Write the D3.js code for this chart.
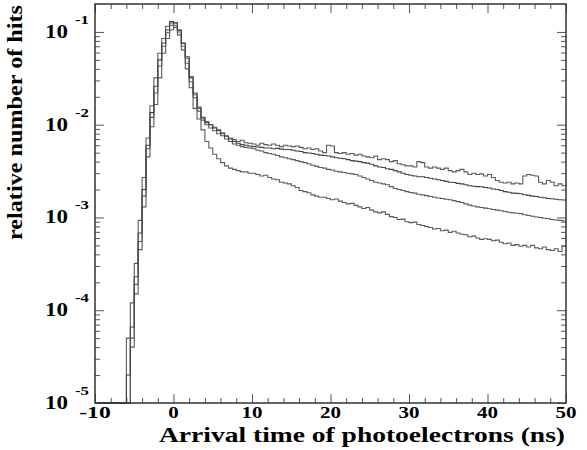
<!DOCTYPE html>
<html>

<head>
  <title>Arrival time of photoelectrons</title>
</head>

<body>

  <svg id="svg" width="587" height="450"></svg>

  <script src="https://d3js.org/d3.v7.min.js"></script>
  <script>
    // bin lower edges (ns), 0.5 ns wide, -10 .. 49.5
    const binLow = d3.range(120).map(i => -10 + i * 0.5)
    const binWidth = 0.5

    // relative number of hits, in units of 1e-4 (10 bins = 5 ns per row)
    const hitsA = [
      0, 0, 0, 0, 0, 0, 0, 0, 0.5, 1.2,
      3.2, 9.3, 27, 72, 160, 320, 590, 850, 1150, 1250,
      1180, 1000, 700, 460, 290, 195, 150, 120, 108, 100,
      94, 88, 82, 76, 72, 69, 66, 68, 64, 63,
      62, 60, 63, 61, 60, 62, 60, 58, 60, 59,
      58, 59, 57, 55, 56, 54, 55, 52, 50, 60,
      59, 50, 49, 50, 48, 49, 47, 48, 46, 45,
      44, 46, 42, 43, 42, 40, 41, 38, 37, 36,
      36, 35, 40, 39, 35, 34, 35, 34, 33, 34,
      32, 31, 32, 33, 31, 29, 30, 29, 29.5, 28,
      29, 27, 25, 24, 23.5, 24, 23, 23.5, 23, 28,
      29, 28.5, 28, 24, 23, 25, 24, 22, 23, 22
    ]
    const hitsB = [
      0, 0, 0, 0, 0, 0, 0, 0, 0.2, 0.66,
      2.3, 6.8, 20, 60, 135, 260, 500, 760, 1050, 1290,
      1250, 1050, 760, 540, 320, 220, 155, 118, 105, 100,
      92, 86, 80, 75, 70, 66, 63, 61, 60, 59,
      58, 57.5, 57, 56, 56, 55, 55.5, 54.5, 54, 54,
      53, 52, 51.5, 50, 49.5, 49, 48, 47, 46.5, 46,
      45, 44, 43.5, 43, 42, 41, 40.5, 40, 39, 38.5,
      37.5, 36, 35, 34.5, 33.5, 33, 32, 31, 30, 29,
      28.5, 28, 27.5, 27.5, 27, 26.5, 26, 25.5, 25, 24.5,
      24, 23.8, 23.3, 23, 22.5, 22, 21.7, 21.5, 21.4, 21,
      20.8, 20.3, 20, 19.5, 19, 18.7, 18.3, 18.2, 18, 17.6,
      17.3, 17, 16.8, 16.5, 16.3, 16, 15.9, 15.7, 15.5, 15.4
    ]
    const hitsC = [
      0, 0, 0, 0, 0, 0, 0, 0, 0, 0.4,
      1.5, 4.5, 13, 45, 95, 165, 320, 590, 850, 1050,
      1260, 1040, 750, 520, 330, 210, 140, 112, 100, 92,
      86, 80, 76, 70, 66, 62, 60, 58, 57, 56,
      55, 53, 52, 50, 49, 48, 46.5, 45, 44, 43,
      42, 41, 40, 39, 38, 36.5, 35.5, 34.5, 34, 33,
      32.5, 31.5, 31, 30.5, 30, 29.5, 29, 28, 27, 26,
      25, 24, 23.5, 23, 22.5, 21.5, 20.5, 20, 19.5, 19,
      18.6, 18.3, 17.8, 17.5, 17.2, 16.8, 16.5, 16.2, 16, 15.7,
      15.5, 15.2, 14.8, 14.5, 14, 13.6, 13.3, 13, 12.8, 12.6,
      12.4, 12.2, 12, 11.8, 11.6, 11.4, 11.2, 11.1, 11, 10.7,
      10.5, 10.3, 10.1, 10, 9.8, 9.7, 9.5, 9.4, 9.3, 9.2
    ]
    const hitsD = [
      0, 0, 0, 0, 0, 0, 0, 0, 0, 0.5,
      1.9, 5.5, 17, 55, 120, 220, 430, 700, 980, 1180,
      1120, 930, 640, 400, 250, 150, 115, 88, 66, 56,
      48, 43, 39, 36, 34, 33, 32, 31, 31, 30,
      30, 29, 28, 28.5, 27, 26, 25.5, 24, 23.5, 23,
      22, 21, 19.5, 19, 18.5, 17.5, 17, 16.5, 16.5, 16,
      15.5, 15.8, 15, 14.5, 14, 14.2, 13.5, 13, 12.5, 12.8,
      12, 11.5, 11.2, 11.5, 10.8, 10.2, 10, 9.5, 9.6, 9,
      8.8, 8.9, 8.4, 8.2, 8, 7.8, 7.5, 7.6, 7.2, 7.3,
      6.9, 7.1, 6.8, 6.6, 6.5, 6.2, 6.3, 6, 5.8, 5.9,
      5.8, 5.6, 5.7, 5.4, 5.2, 5.3, 5, 5.1, 4.9, 5,
      4.8, 5, 4.7, 4.6, 4.8, 4.5, 4.4, 4.6, 4.3, 4.9
    ]
    const unit = 1e-4

    const xTicks = [-10, 0, 10, 20, 30, 40, 50]
    const yExponents = [-1, -2, -3, -4, -5]

    const series = [
      { values: hitsA, color: '#5a5a5a' },
      { values: hitsC, color: '#5a5a5a' },
      { values: hitsD, color: '#5a5a5a' },
      { values: hitsB, color: '#444' }
    ]

    const plotLeft = 95, plotRight = 566, plotTop = 4, plotBottom = 403
    const serif = "'Liberation Serif', 'Times New Roman', serif"

    const svg = d3.select('#svg')

    const xscale = d3.scaleLinear()
      .domain([-10, 50])
      .range([plotLeft, plotRight])

    const yscale = d3.scaleLog()
      .domain([1e-5, 0.2])
      .range([plotBottom, plotTop])

    // histograms as step lines
    const linegen = d3.line()
      .x(d => xscale(d[0]))
      .y(d => d[1] > 0 ? yscale(d[1] * unit) : plotBottom)
      .curve(d3.curveStepAfter)

    series.forEach(s => {
      const pts = binLow.map((t, i) => [t, s.values[i]])
      pts.push([binLow[binLow.length - 1] + binWidth, s.values[s.values.length - 1]])
      svg.append('path')
        .attr('d', linegen(pts))
        .attr('fill', 'none')
        .attr('stroke', s.color)
        .attr('stroke-width', 1.1)
    })

    // ticks (inside, ROOT style)
    const xMinor = d3.range(-10, 50.01, 2).filter(v => v % 10 !== 0)
    const yMinor = []
    d3.range(-5, 0).forEach(e => d3.range(2, 10).forEach(m => {
      const v = m * Math.pow(10, e)
      if (v < 0.2) yMinor.push(v)
    }))
    const yMajor = yExponents.map(e => Math.pow(10, e))

    function tickGroup(axis, transform) {
      const g = svg.append('g').attr('transform', transform).call(axis)
      g.select('.domain').remove()
      g.selectAll('text').remove()
      g.selectAll('line').attr('stroke', '#555').attr('stroke-width', 1)
    }

    tickGroup(d3.axisBottom(xscale).tickValues(xTicks).tickSize(-9), `translate(0,${plotBottom})`)
    tickGroup(d3.axisBottom(xscale).tickValues(xMinor).tickSize(-5), `translate(0,${plotBottom})`)
    tickGroup(d3.axisTop(xscale).tickValues(xTicks).tickSize(-9), `translate(0,${plotTop})`)
    tickGroup(d3.axisTop(xscale).tickValues(xMinor).tickSize(-5), `translate(0,${plotTop})`)
    tickGroup(d3.axisLeft(yscale).tickValues(yMajor).tickSize(-9), `translate(${plotLeft},0)`)
    tickGroup(d3.axisLeft(yscale).tickValues(yMinor).tickSize(-5), `translate(${plotLeft},0)`)
    tickGroup(d3.axisRight(yscale).tickValues(yMajor).tickSize(-9), `translate(${plotRight},0)`)
    tickGroup(d3.axisRight(yscale).tickValues(yMinor).tickSize(-5), `translate(${plotRight},0)`)

    // frame
    svg.append('rect')
      .attr('x', plotLeft)
      .attr('y', plotTop)
      .attr('width', plotRight - plotLeft)
      .attr('height', plotBottom - plotTop)
      .attr('fill', 'none')
      .attr('stroke', '#333')
      .attr('stroke-width', 1.5)

    // x tick labels
    svg.selectAll('.xlab')
      .data(xTicks)
      .enter()
      .append('text')
      .attr('x', d => xscale(d))
      .attr('y', 418)
      .attr('text-anchor', 'middle')
      .attr('font-family', serif)
      .attr('font-weight', 'bold')
      .attr('font-size', 17)
      .attr('textLength', d => String(d).length * 10.5)
      .attr('lengthAdjust', 'spacingAndGlyphs')
      .text(d => d)

    // y tick labels: 10 with exponent
    yExponents.forEach(e => {
      const yy = yscale(Math.pow(10, e))
      svg.append('text')
        .attr('x', 68)
        .attr('y', yy + 6)
        .attr('text-anchor', 'end')
        .attr('font-family', serif)
        .attr('font-weight', 'bold')
        .attr('font-size', 18)
        .attr('textLength', 23)
        .attr('lengthAdjust', 'spacingAndGlyphs')
        .text('10')
      svg.append('text')
        .attr('x', 75)
        .attr('y', yy - 8)
        .attr('font-family', serif)
        .attr('font-weight', 'bold')
        .attr('font-size', 13)
        .attr('textLength', 14)
        .attr('lengthAdjust', 'spacingAndGlyphs')
        .text(e)
    })

    // axis titles
    svg.append('text')
      .attr('x', 565)
      .attr('y', 442)
      .attr('text-anchor', 'end')
      .attr('font-family', serif)
      .attr('font-weight', 'bold')
      .attr('font-size', 22)
      .attr('textLength', 406)
      .attr('lengthAdjust', 'spacingAndGlyphs')
      .text('Arrival time of photoelectrons (ns)')

    svg.append('text')
      .attr('transform', 'translate(22,5) rotate(-90)')
      .attr('text-anchor', 'end')
      .attr('font-family', serif)
      .attr('font-weight', 'bold')
      .attr('font-size', 22)
      .attr('textLength', 235)
      .attr('lengthAdjust', 'spacingAndGlyphs')
      .text('relative number of hits')
  </script>
</body>

<style>
  body,
  html {
    margin: 0;
    padding: 0;
    background: white;
  }

  #svg {
    display: block;
  }
</style>

</html>
